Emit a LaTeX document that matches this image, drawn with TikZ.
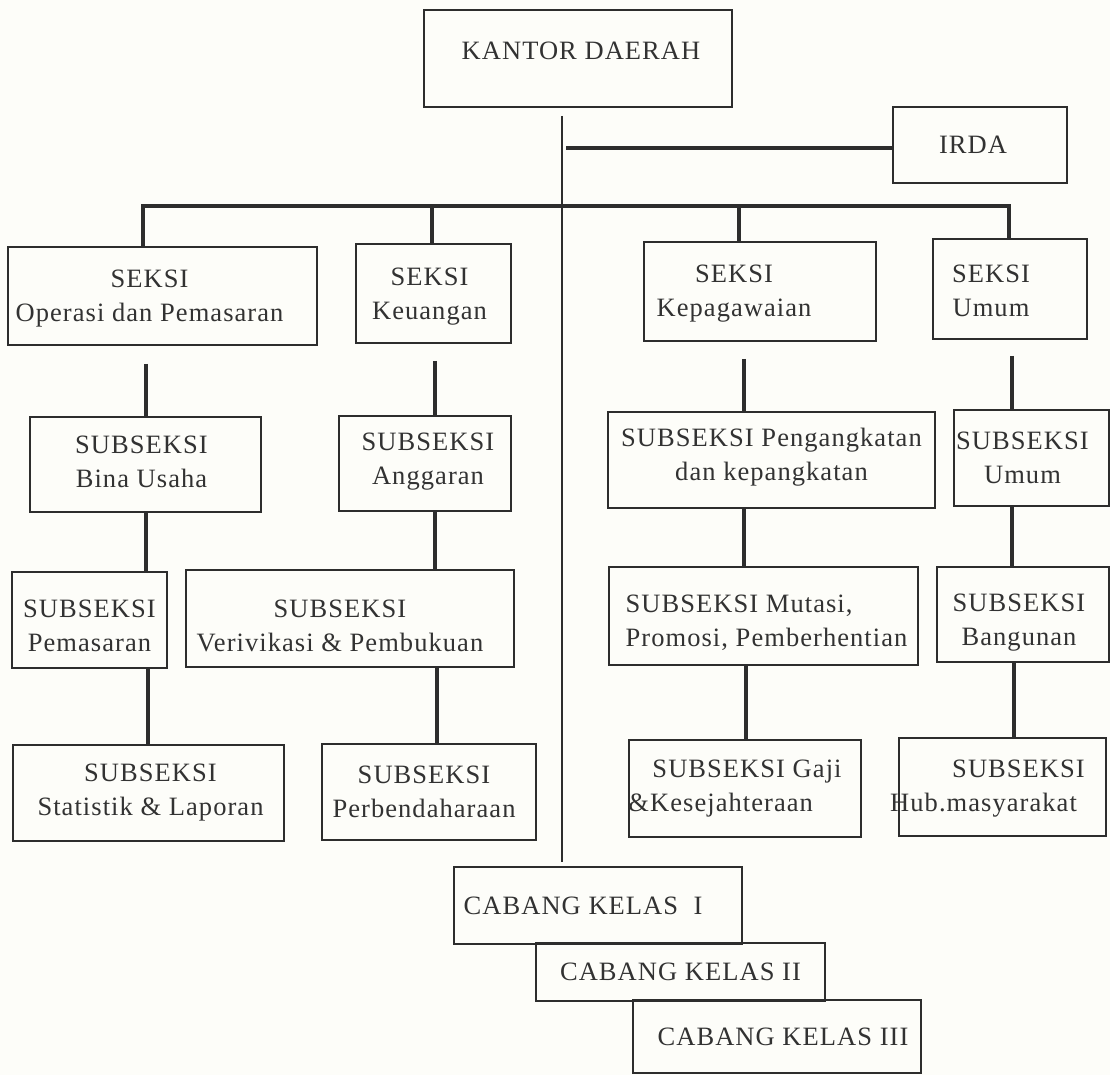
\documentclass[tikz,border=0pt]{standalone}
\usepackage{fontspec}
\setmainfont[LetterSpace=4]{Liberation Serif}
\definecolor{ink}{RGB}{45,45,45}
\definecolor{txt}{RGB}{50,50,50}
\definecolor{paper}{RGB}{253,253,249}
\tikzset{
  box/.style={draw=ink, line width=1.8pt, inner sep=0pt, rectangle},
  lbl/.style={text=txt, font=\fontsize{26.5}{34}\selectfont, align=center, inner sep=0pt},
  conn/.style={draw=ink, line width=3.3pt},
  spine/.style={draw=ink, line width=1.8pt},
}
\newcommand\bx[7]{\node[box, minimum width={(#4-#2)*1pt}, minimum height={(#5-#3)*1pt},
  label={[lbl,#6]center:{#7}}] (#1) at ({(#2+#4)/2},{(#3+#5)/2}) {};}
\begin{document}
\begin{tikzpicture}[x=1pt,y=-1pt]
\fill[paper] (0,0) rectangle (1110,1075);
\useasboundingbox (0,0) rectangle (1110,1075);
% top
\bx{kantor}{424}{10}{732}{107}{xshift=3pt,yshift=8pt}{KANTOR DAERAH}
\bx{irda}{893}{107}{1067}{183}{xshift=-7pt}{IRDA}
% seksi
\bx{op}{8}{247}{317}{345}{xshift=-13pt,yshift=-3pt}{SEKSI\\Operasi dan Pemasaran}
\bx{keu}{356}{244}{511}{343}{xshift=-4pt,yshift=-3pt}{SEKSI\\Keuangan}
\bx{kep}{644}{242}{876}{341}{xshift=-26pt,yshift=-2pt}{SEKSI\\Kepagawaian}
\bx{umum}{933}{239}{1087}{339}{xshift=-19pt,yshift=-2pt}{SEKSI\\Umum}
% level 2
\bx{bina}{30}{417}{261}{512}{xshift=-4pt,yshift=3pt}{SUBSEKSI\\Bina Usaha}
\bx{angg}{339}{416}{511}{511}{xshift=3pt,yshift=2pt}{SUBSEKSI\\Anggaran}
\bx{peng}{608}{412}{935}{508}{yshift=3pt}{SUBSEKSI Pengangkatan\\dan kepangkatan}
\bx{sumum}{954}{410}{1109}{506}{xshift=-9pt}{SUBSEKSI\\Umum}
% level 3
\bx{pem}{12}{572}{167}{668}{yshift=-6pt}{SUBSEKSI\\Pemasaran}
\bx{ver}{186}{570}{514}{667}{xshift=-10pt,yshift=-7pt}{SUBSEKSI\\Verivikasi \& Pembukuan}
\bx{mut}{609}{567}{918}{665}{xshift=3pt,yshift=-7pt,align=left}{SUBSEKSI Mutasi,\\Promosi, Pemberhentian}
\bx{bang}{937}{567}{1109}{662}{xshift=-4pt,yshift=-8pt}{SUBSEKSI\\Bangunan}
% level 4
\bx{stat}{13}{745}{284}{841}{xshift=2pt}{SUBSEKSI\\Statistik \& Laporan}
\bx{perb}{322}{744}{536}{840}{xshift=-5pt}{SUBSEKSI\\Perbendaharaan}
\bx{gaji}{629}{740}{861}{837}{xshift=-10pt,align=left}{\hspace*{24pt}SUBSEKSI Gaji\\\&Kesejahteraan}
\bx{hub}{899}{738}{1106}{836}{xshift=-15pt,yshift=-2pt,align=left}{\hspace*{62pt}SUBSEKSI\\Hub.masyarakat}
% cabang
\bx{cab1}{454}{867}{742}{944}{xshift=-15pt}{CABANG KELAS\ \ I}
\bx{cab2}{536}{943}{825}{1001}{}{CABANG KELAS II}
\bx{cab3}{633}{1000}{921}{1073}{xshift=6pt}{CABANG KELAS III}
% spine
\coordinate (mtop) at (562,116);
\draw[spine, shorten >=4pt] (mtop) -- (cab1.north -| mtop);
% IRDA line
\coordinate (ir0) at (566,148);
\draw[conn] (ir0) -- (ir0 -| irda.west);
% bus
\coordinate (b1) at (143,206);
\coordinate (b2) at (432,206);
\coordinate (b3) at (739,206);
\coordinate (b4) at (1009,206);
\draw[conn, line join=miter] (b1 |- op.north) -- (b1) -- (b4) -- (b4 |- umum.north);
\draw[conn] (b2) -- (b2 |- keu.north);
\draw[conn] (b3) -- (b3 |- kep.north);
% vertical chains
\coordinate (c1) at (146,0);
\coordinate (c2) at (435,0);
\coordinate (c3) at (744,0);
\coordinate (c4) at (1012,0);
\draw[conn] ([yshift=-18pt]op.south -| c1) -- (bina.north -| c1);
\draw[conn] ([yshift=-17pt]keu.south -| c2) -- (angg.north -| c2);
\draw[conn] ([yshift=-17pt]kep.south -| c3) -- (peng.north -| c3);
\draw[conn] ([yshift=-16pt]umum.south -| c4) -- (sumum.north -| c4);
\draw[conn] (bina.south -| c1) -- (pem.north -| c1);
\draw[conn] (angg.south -| c2) -- (ver.north -| c2);
\draw[conn] (peng.south -| c3) -- (mut.north -| c3);
\draw[conn] (sumum.south -| c4) -- (bang.north -| c4);
\coordinate (d1) at (148,0);
\coordinate (d2) at (437,0);
\coordinate (d3) at (746,0);
\coordinate (d4) at (1014,0);
\draw[conn] (pem.south -| d1) -- (stat.north -| d1);
\draw[conn] (ver.south -| d2) -- (perb.north -| d2);
\draw[conn] (mut.south -| d3) -- (gaji.north -| d3);
\draw[conn] (bang.south -| d4) -- (hub.north -| d4);
\end{tikzpicture}
\end{document}
